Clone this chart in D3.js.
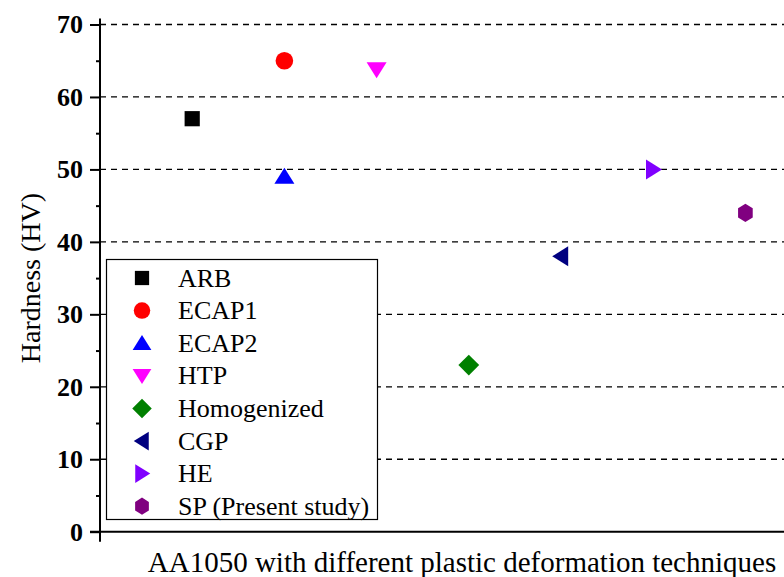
<!DOCTYPE html>
<html>
<head>
<meta charset="utf-8">
<script src="https://cdn.jsdelivr.net/npm/d3@7"></script>
<style>
  body { margin: 0; background: #fff; }
  svg { display: block; }
  text { font-family: "Liberation Serif", "Times New Roman", serif; }
</style>
</head>
<body>
<div id="chart"></div>
<script>
// data
const techniques = ["ARB", "ECAP1", "ECAP2", "HTP", "Homogenized", "CGP", "HE", "SP (Present study)"];
const slot = [1, 2, 2, 3, 4, 5, 6, 7];
const hardness = [57, 65, 49, 63.8, 23, 38, 50, 44];
const yTicks = [0, 10, 20, 30, 40, 50, 60, 70];
const yMinor = [5, 15, 25, 35, 45, 55, 65];

// styles
const colors = ["#000000", "#ff0000", "#0000ff", "#ff00ff", "#008000", "#000080", "#8000ff", "#800080"];
const shapes = ["square", "circle", "up", "down", "diamond", "left", "right", "hexagon"];

const width = 784, height = 577;
const margin = { top: 24, right: 0, bottom: 45, left: 100 };

const svg = d3.select("#chart").append("svg")
    .attr("width", width)
    .attr("height", height);

const x = d3.scaleLinear().domain([0, 7.5]).range([margin.left, margin.left + 92.2 * 7.5]);
const y = d3.scaleLinear().domain([0, 70]).range([531.7, margin.top + 0.5]);

// marker paths centred on 0,0
function marker(shape, s) {
    const h = s / 2;
    switch (shape) {
        case "square": return `M${-h * 0.95},${-h * 0.95}H${h * 0.95}V${h * 0.95}H${-h * 0.95}Z`;
        case "circle": return d3.arc()({ innerRadius: 0, outerRadius: h * 1.1, startAngle: 0, endAngle: 2 * Math.PI });
        case "up": return `M0,${-h * 1.1}L${h * 1.25},${h * 0.9}L${-h * 1.25},${h * 0.9}Z`;
        case "down": return `M0,${h * 1.1}L${h * 1.25},${-h * 0.9}L${-h * 1.25},${-h * 0.9}Z`;
        case "left": return `M${-h * 1.1},0L${h * 0.9},${-h * 1.25}L${h * 0.9},${h * 1.25}Z`;
        case "right": return `M${h * 1.1},0L${-h * 0.9},${-h * 1.25}L${-h * 0.9},${h * 1.25}Z`;
        case "diamond": return `M0,${-h * 1.3}L${h * 1.3},0L0,${h * 1.3}L${-h * 1.3},0Z`;
        case "hexagon": {
            const r = h * 1.15;
            const pts = d3.range(6).map(i => {
                const a = Math.PI / 3 * i - Math.PI / 2;
                return [r * Math.cos(a) * 0.92, r * Math.sin(a)];
            });
            return "M" + pts.map(p => p.join(",")).join("L") + "Z";
        }
    }
}

// dashed grid
svg.append("g")
    .selectAll("line")
    .data(yTicks.filter(d => d > 0))
    .join("line")
    .attr("x1", margin.left)
    .attr("x2", width)
    .attr("y1", d => y(d))
    .attr("y2", d => y(d))
    .attr("stroke", "#000")
    .attr("stroke-width", 1.3)
    .attr("stroke-dasharray", "6,5");

// y axis major
const yAxis = svg.append("g")
    .attr("transform", `translate(${margin.left},0)`)
    .call(d3.axisLeft(y).tickValues(yTicks).tickSize(10).tickPadding(7));
yAxis.select(".domain").remove();
yAxis.attr("font-family", null);
yAxis.selectAll(".tick line").attr("stroke-width", 2);
yAxis.selectAll(".tick text")
    .style("font-family", "'Liberation Serif', 'Times New Roman', serif")
    .attr("font-weight", "bold")
    .attr("font-size", 26)
    .attr("fill", "#000");

// y axis minor
const yMinorAxis = svg.append("g")
    .attr("transform", `translate(${margin.left},0)`)
    .call(d3.axisLeft(y).tickValues(yMinor).tickSize(4).tickFormat(""));
yMinorAxis.select(".domain").remove();
yMinorAxis.selectAll(".tick line").attr("stroke-width", 2);

// axis lines
svg.append("line")
    .attr("x1", margin.left).attr("x2", margin.left)
    .attr("y1", y(70) - 6).attr("y2", y(0) + 10)
    .attr("stroke", "#000").attr("stroke-width", 2);
svg.append("line")
    .attr("x1", margin.left - 10).attr("x2", width)
    .attr("y1", y(0)).attr("y2", y(0))
    .attr("stroke", "#000").attr("stroke-width", 2);

// axis titles
svg.append("text")
    .attr("transform", `translate(40,${(y(0) + y(70)) / 2}) rotate(-90)`)
    .attr("text-anchor", "middle")
    .attr("font-size", 28)
    .text("Hardness (HV)");

svg.append("text")
    .attr("x", 462)
    .attr("y", 572)
    .attr("text-anchor", "middle")
    .attr("font-size", 29)
    .text("AA1050 with different plastic deformation techniques");

// points
svg.append("g")
    .selectAll("path")
    .data(techniques)
    .join("path")
    .attr("transform", (d, i) => `translate(${x(slot[i])},${y(hardness[i])})`)
    .attr("d", (d, i) => marker(shapes[i], 16))
    .attr("fill", (d, i) => colors[i]);

// legend
const legend = svg.append("g");
legend.append("rect")
    .attr("x", 106.5).attr("y", 259.5)
    .attr("width", 271).attr("height", 260)
    .attr("fill", "#fff")
    .attr("stroke", "#000")
    .attr("stroke-width", 1.2);

const rows = legend.selectAll("g.row")
    .data(techniques)
    .join("g")
    .attr("class", "row")
    .attr("transform", (d, i) => `translate(142,${278 + i * 32.6})`);
rows.append("path")
    .attr("d", (d, i) => marker(shapes[i], 15))
    .attr("fill", (d, i) => colors[i]);
rows.append("text")
    .attr("x", 36)
    .attr("y", 8.5)
    .attr("font-size", 26)
    .text(d => d);
</script>
</body>
</html>
